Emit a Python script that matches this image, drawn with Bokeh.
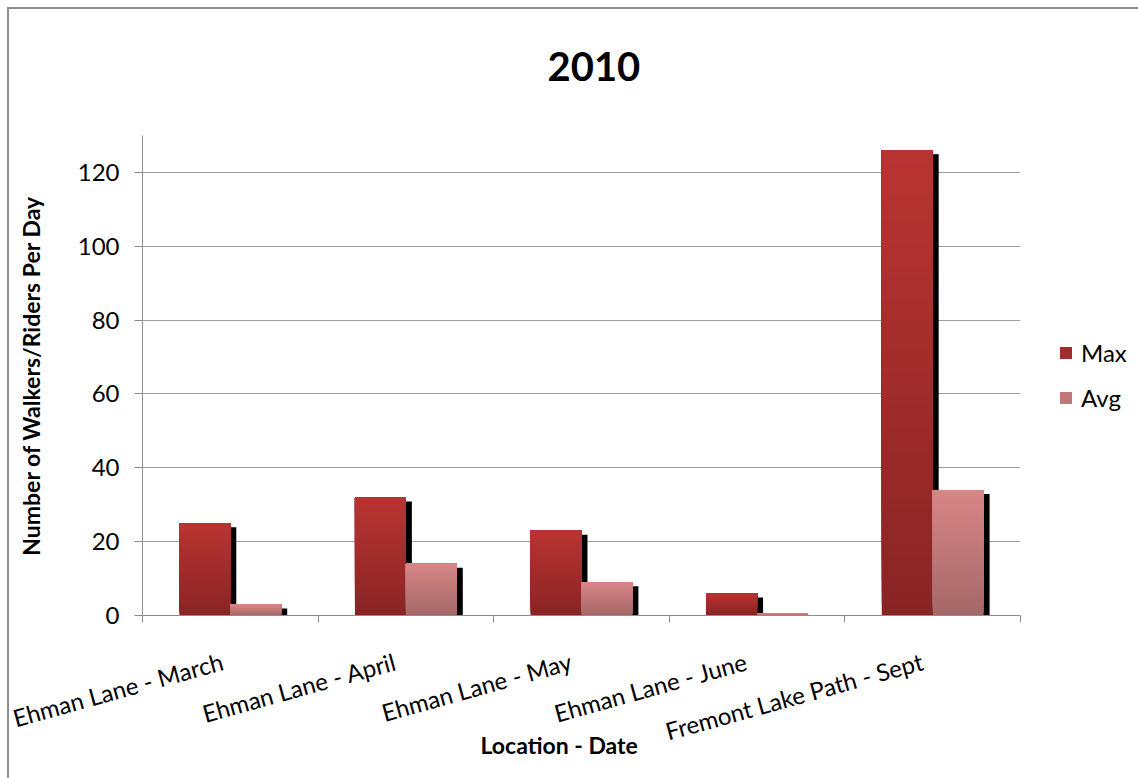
import numpy as np
from bokeh.plotting import figure
from bokeh.models import (ColumnDataSource, Range1d, FixedTicker, Legend, LegendItem,
                          CustomJSTickFormatter, Title)
from bokeh.embed import file_html
from bokeh.resources import INLINE

# ---- data ----
categories = ["Ehman Lane - March", "Ehman Lane - April", "Ehman Lane - May",
              "Ehman Lane - June", "Fremont Lake Path - Sept"]
max_vals = [25, 32, 23, 6, 126]
avg_vals = [3, 14, 9, 0.5, 34]
y_ticks = [0, 20, 40, 60, 80, 100, 120]
series_names = ["Max", "Avg"]

# ---- style ----
FONT = "Lato"
BAR_W = 0.29
SHADOW_DX = 0.034
SHADOW_DY = 1.1
LABEL_SHIFT = 0.06
N_SLICES = 40
MAX_TOP, MAX_BOT = (185, 52, 50), (137, 36, 36)
AVG_TOP, AVG_BOT = (216, 134, 134), (164, 104, 104)
GRID = "#9d9d9d"
AXIS = "#8c8c8c"


def lerp(c0, c1, t):
    return "#%02x%02x%02x" % tuple(int(round(a + (b - a) * t)) for a, b in zip(c0, c1))


p = figure(frame_width=878, frame_height=480, x_range=Range1d(0, len(categories)),
           y_range=Range1d(0, 130), output_backend="svg", toolbar_location=None,
           min_border_left=133, min_border_top=126, min_border_bottom=163,
           min_border_right=118)
p.styles = {"margin-left": "7px", "margin-top": "7px",
            "border-left": "2px solid #8e8e8e", "border-top": "2px solid #8e8e8e"}
p.outline_line_color = None
p.background_fill_color = "white"
p.border_fill_color = "white"

# shadows (drawn first)
sh = dict(x=[], top=[])
for vals, off in [(max_vals, -BAR_W / 2), (avg_vals, BAR_W / 2)]:
    for i, v in enumerate(vals):
        sh["x"].append(i + 0.5 + off + SHADOW_DX)
        sh["top"].append(max(v - SHADOW_DY, 0))
p.vbar(x="x", top="top", bottom=0, width=BAR_W, source=ColumnDataSource(sh),
       fill_color="black", line_color=None)

# gradient bars: overlapping bands from each band's bottom up to the bar top
series_renderers = []
for vals, off, ctop, cbot in [(max_vals, -BAR_W / 2, MAX_TOP, MAX_BOT),
                              (avg_vals, BAR_W / 2, AVG_TOP, AVG_BOT)]:
    d = dict(x=[], bottom=[], top=[], color=[])
    for k in range(N_SLICES):
        for i, v in enumerate(vals):
            d["x"].append(i + 0.5 + off)
            d["bottom"].append(v * k / N_SLICES)
            d["top"].append(v)
            d["color"].append(lerp(cbot, ctop, (k + 0.5) / N_SLICES))
    r = p.vbar(x="x", top="top", bottom="bottom", width=BAR_W,
               source=ColumnDataSource(d), fill_color="color", line_color=None)
    series_renderers.append(r)

mid_index = (N_SLICES // 2) * len(categories) + len(categories) - 1
legend = Legend(items=[LegendItem(label=series_names[0], renderers=[series_renderers[0]], index=mid_index),
                       LegendItem(label=series_names[1], renderers=[series_renderers[1]], index=mid_index)],
                location="center_left", orientation="vertical")
legend.glyph_width = 15
legend.glyph_height = 15
legend.label_standoff = 8
legend.spacing = 16
legend.padding = 0
legend.margin = 38
legend.border_line_color = None
legend.background_fill_color = None
legend.label_text_font = FONT
legend.label_text_font_size = "24px"
legend.label_text_color = "black"
p.add_layout(legend, "right")

# grid
p.xgrid.visible = False
p.ygrid.ticker = FixedTicker(ticks=y_ticks)
p.ygrid.grid_line_color = GRID
p.ygrid.grid_line_width = 1

# y axis
ya = p.yaxis[0]
ya.ticker = FixedTicker(ticks=y_ticks)
ya.axis_line_color = AXIS
ya.major_tick_line_color = AXIS
ya.major_tick_out = 8
ya.major_tick_in = 0
ya.minor_tick_line_color = None
ya.major_label_text_font = FONT
ya.major_label_text_font_size = "24px"
ya.major_label_text_color = "black"
ya.major_label_standoff = 15
ya.axis_label = "Number of Walkers/Riders Per Day"
ya.axis_label_text_font = FONT
ya.axis_label_text_font_size = "23px"
ya.axis_label_text_font_style = "bold"
ya.axis_label_text_color = "black"
ya.axis_label_standoff = 30

# x axis
xa = p.xaxis[0]
xa.ticker = FixedTicker(ticks=[i + 0.5 - LABEL_SHIFT for i in range(len(categories))],
                        minor_ticks=list(range(len(categories) + 1)))
xa.formatter = CustomJSTickFormatter(args=dict(labels=categories),
                                     code="return labels[Math.floor(tick)]")
xa.axis_line_color = AXIS
xa.major_tick_line_color = None
xa.major_tick_out = 0
xa.major_tick_in = 0
xa.minor_tick_line_color = AXIS
xa.minor_tick_out = 7
xa.minor_tick_in = 0
xa.major_label_orientation = 0.27
xa.major_label_text_font = FONT
xa.major_label_text_font_size = "24px"
xa.major_label_text_color = "black"
xa.major_label_standoff = 38

xtitle = Title(text="Location - Date", align="left", offset=338, standoff=-64,
               vertical_align="top", text_font=FONT, text_font_size="23px",
               text_font_style="bold", text_color="black")
p.add_layout(xtitle, "below")

# title (the empty second line lifts the text inside the top border area)
p.title.text = "2010\n "
p.title.align = "left"
p.title.offset = 405
p.title.vertical_align = "top"
p.title.standoff = -8
p.title.text_font = FONT
p.title.text_font_size = "40px"
p.title.text_font_style = "bold"
p.title.text_color = "black"

open("out.html", "w").write(file_html(p, INLINE))
